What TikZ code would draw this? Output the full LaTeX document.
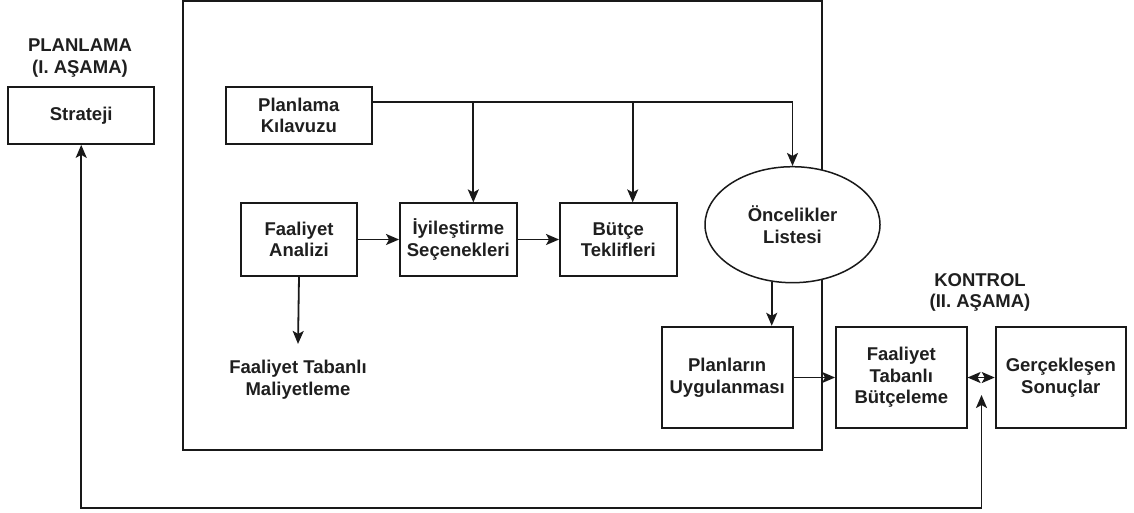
\documentclass[tikz,border=0pt]{standalone}
\usepackage{fontspec}
\setmainfont{Liberation Sans}
\usetikzlibrary{arrows.meta,shapes.geometric}
\begin{document}
\begin{tikzpicture}[x=1pt,y=-1pt,
  txt/.style={align=center, inner sep=0pt, text=black!88, font=\bfseries\fontsize{18.5}{21.5}\selectfont},
  box/.style={txt, draw=black!90, line width=1.8pt, fill=white},
  tip/.style={},
  arr/.style={-{Stealth[length=13pt,width=11pt,inset=3pt]}, line width=1.8pt, draw=black!90},
  darr/.style={{Stealth[length=13pt,width=11pt,inset=3pt]}-{Stealth[length=13pt,width=11pt,inset=3pt]}, line width=1.8pt, draw=black!90}]
\useasboundingbox (0,0) rectangle (1134,512);
\fill[white] (0,0) rectangle (1134,512);

% outer frame
\node[draw=black!90, line width=1.8pt, minimum width=639pt, minimum height=449pt, inner sep=0pt] (frame) at (502.2,225.5) {};

% labels
\node[txt] (plan) at (80,58) {PLANLAMA\\(I. AŞAMA)};
\node[txt] (kont) at (980,292.5) {KONTROL\\(II. AŞAMA)};

% boxes
\node[box, minimum width=145.7pt, minimum height=57.3pt] (strat) at (81.2,115.3) {Strateji};
\node[box, minimum width=145.7pt, minimum height=57.3pt] (pk) at (298.8,115.3) {Planlama\\Kılavuzu};
\node[box, minimum width=116.6pt, minimum height=72.4pt] (fa) at (299,239.5) {Faaliyet\\Analizi};
\node[box, minimum width=116.7pt, minimum height=72.4pt] (iy) at (458.3,239.5) {İyileştirme\\Seçenekleri};
\node[box, minimum width=116.7pt, minimum height=72.4pt] (bt) at (618.3,239.5) {Bütçe\\Teklifleri};
\node[box, ellipse, line width=1.5pt, minimum width=175pt, minimum height=116pt] (ol) at (792.5,224.7) {Öncelikler\\Listesi};
\node[box, minimum width=131pt, minimum height=101.6pt] (pu) at (727.2,377.5) {Planların\\Uygulanması};
\node[box, minimum width=130.7pt, minimum height=101.6pt] (ftb) at (901.3,377.5) {Faaliyet\\Tabanlı\\Bütçeleme};
\node[box, minimum width=130.3pt, minimum height=101.6pt] (gs) at (1060.8,377.5) {Gerçekleşen\\Sonuçlar};
\node[txt] (ftm) at (298,379.5) {Faaliyet Tabanlı\\Maliyetleme};

% connectors
\coordinate (rail) at (0,101.7);
\coordinate (b1) at (473.3,101.7);
\coordinate (b2) at (632.7,101.7);
\draw[arr] (pk.east |- rail) -| (ol.north);
\draw[arr] (b1) -- (b1 |- iy.north);
\draw[arr] (b2) -- (b2 |- bt.north);
\draw[arr] (fa.east) -- (iy.west);
\draw[arr] (iy.east) -- (bt.west);
\draw[arr] (fa.south) -- ([yshift=16pt]ftm.north);
\draw[arr] (ol.250.5) -- (ol.250.5 |- pu.north);
\draw[arr] (pu.east) -- (ftb.west);
\draw[darr] (ftb.east) -- (gs.west);
\coordinate (fb) at (981.5,395);
\coordinate (fbb) at (981.5,508);
\draw[darr] (strat.south) |- (fbb) -- (fb);
\end{tikzpicture}
\end{document}
